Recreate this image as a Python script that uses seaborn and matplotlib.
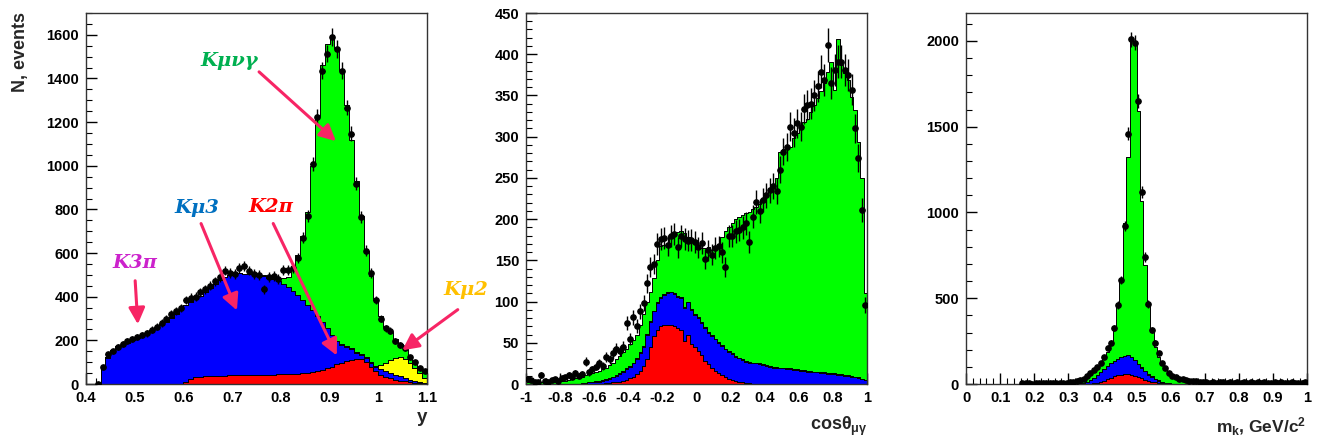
import numpy as np
import pandas as pd
import matplotlib
matplotlib.use("Agg")
import matplotlib.pyplot as plt
import seaborn as sns
from matplotlib.ticker import MultipleLocator, FuncFormatter
from matplotlib.patches import FancyArrowPatch

nan = np.nan

# ---------------- left panel: y (0.40 .. 1.10, 70 bins) ----------------
y_edges = [0.40 + 0.01 * i for i in range(71)]
y_k2pi = [0]*20 + [10, 22, 30, 34, 36, 37, 37, 38, 38, 39, 40, 40, 41, 40, 41, 42, 42, 43, 43, 44,
                   45, 45, 47, 48, 50, 52, 55, 60, 66, 72, 80, 90, 98, 105, 110, 114, 114, 100, 78, 58,
                   42, 33, 26, 20, 16, 12, 9, 6, 4, 3]
y_kmu3 = [0, 0, 0, 72, 118, 148, 163, 172, 188, 200, 210, 220, 230, 243, 257, 270, 285, 303, 322, 342,
          352, 356, 362, 371, 384, 401, 421, 440, 454, 461, 465, 467, 464, 463, 459, 455, 451, 445, 437, 426,
          413, 400, 381, 360, 335, 310, 285, 252, 218, 183, 145, 105, 82, 65, 50, 30, 20, 18, 17, 18,
          25, 27, 24, 22, 19, 16, 11, 9, 6, 3]
y_k3pi = [0, 0, 0, 2, 5, 8, 10, 8, 6, 5, 5, 4, 4, 4, 3, 3, 3, 2, 2, 2, 2, 1, 1] + [0]*47
y_kmu2 = [0]*50 + [1, 2, 2, 3, 3, 3, 4, 5, 5, 8, 20, 38, 60, 76, 90, 87, 76, 58, 40, 22]
y_kmng = [0]*35 + [3, 5, 7, 10, 12, 28, 45, 112, 182, 295, 428, 660, 918, 1176, 1305, 1374, 1343, 1258,
                   1107, 957, 783, 632, 487, 395, 301, 223, 164, 128, 87, 58, 45, 32, 27, 26, 27]
y_data = [nan, nan, 0, 78, 137, 150, 170, 185, 195, 205, 215, 225, 232, 248, 262, 280, 300, 320, 335, 350,
          385, 395, 400, 420, 435, 450, 470, 490, 520, 510, 505, 530, 540, 520, 505, 500, 435, 490, 495, 480,
          523, 523, 532, 577, 670, 770, 1009, 1225, 1436, 1514, 1590, 1535, 1436, 1266, 1147, 917, 766, 610,
          509, 385, 300, 255, 245, 195, 180, 165, 124, 100, 75, 60]

# ---------------- middle panel: cos(theta_mu gamma) (-1 .. 1, 100 bins) ----------------
c_edges = [-1.0 + 0.02 * i for i in range(101)]
c_total = [3, 2, 2, 2, 2, 2, 3, 3, 3, 3, 4, 4, 5, 6, 7, 8, 9, 11, 12, 13,
           14, 16, 18, 20, 23, 26, 30, 34, 39, 43, 48, 53, 60, 72, 85, 100, 112, 128, 150, 167,
           168, 170, 178, 181, 184, 185, 183, 178, 174, 171, 168, 165, 165, 166, 163, 165, 170, 178, 185, 190,
           195, 200, 203, 205, 207, 209, 212, 215, 218, 224, 228, 234, 240, 250, 282, 285, 286, 288, 298, 305,
           312, 318, 322, 330, 338, 347, 355, 365, 379, 391, 357, 419, 387, 377, 369, 348, 332, 294, 250, 110]
c_k2pi = [0]*23 + [1, 1, 2, 2, 3, 4, 5, 7, 9, 12, 16, 22, 30, 45, 58, 66, 70,
                   72, 72, 72, 70, 68, 65, 52, 60, 48, 45, 40, 35, 28, 24, 20, 16, 13, 11, 8, 6,
                   5, 4, 3, 2, 1, 1] + [0]*34
c_blue_top = [0]*16 + [1, 1, 2, 2, 3, 3, 4, 5, 6, 8, 10, 12, 15, 18, 21, 25, 30, 38, 45, 60, 75, 88, 98, 104,
                       108, 110, 111, 109, 106, 104, 92, 99, 90, 84, 80, 74, 68, 62, 58, 54, 50, 46, 42, 39,
                       36, 33, 31, 29, 27, 26, 25, 25, 24, 23, 22, 21, 20, 20, 19, 19, 18, 18, 17, 17,
                       16, 16, 15, 15, 14, 14, 13, 13, 12, 12, 12, 11, 11, 10, 10, 9, 8, 7, 6, 5]
c_kmu2 = [0]*20 + [1]*78 + [0, 0]
c_data = [6, 5, 3, 2, 11, 4, 3, 5, 6, 4, 7, 8, 11, 9, 13, 10, 12, 27, 14, 18,
          21, 25, 22, 33, 30, 37, 43, 40, 45, 74, 55, 81, 70, 88, 98, 122, 142, 146, 170, 176,
          177, 168, 180, 182, 166, 180, 176, 174, 175, 172, 166, 171, 152, 162, 157, 165, 167, 160, 142, 179,
          180, 185, 187, 190, 195, 172, 203, 221, 210, 223, 229, 235, 240, 234, 260, 282, 288, 312, 305, 316,
          312, 334, 338, 340, 350, 361, 379, 369, 411, 365, 381, 391, 391, 381, 375, 357, 310, 274, 211, 96]

# ---------------- right panel: m_k (0 .. 1, 100 bins) ----------------
m_edges = [0.01 * i for i in range(101)]
m_k2pi = [0]*35 + [1, 2, 4, 7, 12, 20, 28, 36, 44, 50, 55, 58, 58, 54, 48, 40, 33, 25, 18, 13,
                   9, 6, 4, 2, 1] + [0]*40
m_kmu3 = [0]*33 + [3, 6, 11, 20, 31, 43, 56, 68, 77, 84, 91, 98, 103, 107, 110, 106, 92, 75, 62, 50,
                   37, 29, 21, 14, 8, 5, 3, 2, 1] + [0]*38
m_kmu2 = [0]*50 + [2, 2, 3, 3, 2, 2, 2, 1] + [0]*42
m_kmng = [0]*30 + [5, 8, 10, 15, 17, 28, 30, 35, 35, 54, 63, 83, 119, 191, 324, 448, 772, 1157, 1846, 1855,
                   1473, 968, 616, 414, 261, 186, 137, 107, 88, 66, 50, 37, 28, 20, 14, 8, 5, 3] + [0]*32
m_data = [nan]*16 + [4, 3, 5, 2, 4, 5, 3, 6, 4, 5, 3, 6, 5, 8, 9, 12, 15, 22, 30, 45, 64, 80, 101, 124,
                     159, 210, 241, 325, 460, 606, 921, 1458, 2010, 1991, 1650, 1119, 740, 466, 315, 241, 180, 122,
                     93, 64, 45, 38, 29, 27, 25, 20, 18, 15, 14, 12, 10, 8, 12, 7, 9, 11, 6, 10, 8, 9,
                     7, 11, 6, 9, 8, 10, 5, 9, 7, 8, 10, 6, 9, 7, 8, 11, 6, 8, 7, 9]

names = ["Kmunugamma", "Kmu2", "K3pi", "Kmu3", "K2pi"]  # top -> bottom
colors = {"Kmunugamma": "#00ff00", "Kmu2": "#ffff00", "K3pi": "#ff00ff",
          "Kmu3": "#0000ff", "K2pi": "#ff0000"}

sns.set_theme(style="white")
plt.rcParams["font.family"] = ["Liberation Sans", "DejaVu Sans"]
plt.rcParams["font.weight"] = "bold"
plt.rcParams["mathtext.fontset"] = "custom"
plt.rcParams["mathtext.rm"] = "Liberation Sans:bold"
plt.rcParams["mathtext.it"] = "Liberation Sans:bold"
plt.rcParams["mathtext.bf"] = "Liberation Sans:bold"

W, H = 1317, 440
fig = plt.figure(figsize=(W / 100, H / 100), dpi=100)


def axes_px(x0, x1, y0, y1):
    return fig.add_axes([x0 / W, 1 - y1 / H, (x1 - x0) / W, (y1 - y0) / H])


def draw_panel(ax, edges, comps, data, xlim, ylim, xmaj, xmin, ymaj, ymin):
    edges_list = [float(e) for e in edges]
    e = np.asarray(edges_list)
    centers = (e[:-1] + e[1:]) / 2
    frames = []
    for name, vals in comps.items():
        frames.append(pd.DataFrame({"x": centers, "w": np.asarray(vals, float), "comp": name}))
    df = pd.concat(frames, ignore_index=True)
    order = [n for n in names if n in comps]
    sns.histplot(data=df, x="x", weights="w", hue="comp", hue_order=order, bins=edges_list,
                 multiple="stack", element="step", fill=True, alpha=1,
                 palette={k: colors[k] for k in order}, edgecolor="black", linewidth=0.7,
                 legend=False, ax=ax)
    d = np.asarray(data, float)
    ok = ~np.isnan(d)
    hw = (e[1] - e[0]) / 2
    ax.errorbar(centers[ok], d[ok], yerr=np.sqrt(d[ok]), xerr=hw, fmt="o", color="black",
                ms=3.8, elinewidth=1.0, capsize=0, zorder=5)
    ax.set_xlim(*xlim)
    ax.set_ylim(*ylim)
    ax.set_xlabel("")
    ax.set_ylabel("")
    ax.set_axisbelow(True)
    ax.xaxis.set_major_locator(MultipleLocator(xmaj))
    ax.xaxis.set_minor_locator(MultipleLocator(xmin))
    ax.yaxis.set_major_locator(MultipleLocator(ymaj))
    ax.yaxis.set_minor_locator(MultipleLocator(ymin))
    ax.xaxis.set_major_formatter(FuncFormatter(lambda v, p: "%g" % round(v, 3)))
    ax.yaxis.set_major_formatter(FuncFormatter(lambda v, p: "%d" % round(v)))
    ax.tick_params(which="both", direction="in", bottom=True, left=True, top=False, right=False,
                   labelsize=10.5, colors="black")
    ax.tick_params(which="major", length=8, width=1.0, pad=5)
    ax.tick_params(which="minor", length=4, width=0.8)
    for lab in ax.get_xticklabels() + ax.get_yticklabels():
        lab.set_fontweight("bold")
    for s in ax.spines.values():
        s.set_color("#333333")
        s.set_linewidth(1.0)
        s.set_visible(True)


ax1 = axes_px(86, 427, 13, 384)
draw_panel(ax1, y_edges,
           {"Kmunugamma": y_kmng, "Kmu2": y_kmu2, "K3pi": y_k3pi, "Kmu3": y_kmu3, "K2pi": y_k2pi},
           y_data, (0.4, 1.1), (0, 1700), 0.1, 0.02, 200, 50)

c_kmu3 = [max(b - r, 0) for b, r in zip(c_blue_top, c_k2pi)]
c_kmng = [max(t - b - y, 0) for t, b, y in zip(c_total, c_blue_top, c_kmu2)]
ax2 = axes_px(526, 867, 13, 384)
draw_panel(ax2, c_edges,
           {"Kmunugamma": c_kmng, "Kmu2": c_kmu2, "Kmu3": c_kmu3, "K2pi": c_k2pi},
           c_data, (-1, 1), (0, 450), 0.2, 0.04, 50, 10)

ax3 = axes_px(966, 1307, 13, 384)
draw_panel(ax3, m_edges,
           {"Kmunugamma": m_kmng, "Kmu2": m_kmu2, "Kmu3": m_kmu3, "K2pi": m_k2pi},
           m_data, (0, 1), (0, 2163), 0.1, 0.02, 500, 100)


def fp(x, y):
    return (x / W, 1 - y / H)


# axis titles
fig.text(*fp(20, 12), "N, events", rotation=90, ha="center", va="top", fontsize=13, fontweight="bold")
fig.text(*fp(427, 417), "y", ha="right", va="center", fontsize=13.5, fontweight="bold")
fig.text(*fp(867, 426), r"$\mathrm{cos}\theta_{\mu\gamma}$", ha="right", va="center", fontsize=13)
fig.text(*fp(1306, 427), r"$\mathrm{m_{k}}$, GeV/c$^{2}$", ha="right", va="center", fontsize=12.5,
         fontweight="bold")

# decay channel labels and arrows
lab_kw = dict(ha="center", va="center", fontsize=14, fontweight="bold", fontstyle="italic",
              family=["DejaVu Serif"])
fig.text(*fp(229, 61), "Kμνγ", color="#00b050", **lab_kw)
fig.text(*fp(197, 208), "Kμ3", color="#0070c0", **lab_kw)
fig.text(*fp(271, 207), "K2π", color="#ff0000", **lab_kw)
fig.text(*fp(135, 263), "K3π", color="#cc22cc", **lab_kw)
fig.text(*fp(466, 290), "Kμ2", color="#ffc000", **lab_kw)

arrow_col = "#f72565"
for (xa, ya), (xb, yb) in [((257, 70), (338, 143)), ((200, 221), (238, 313)),
                           ((272, 221), (338, 358)), ((135, 278), (138, 327)),
                           ((460, 308), (400, 352))]:
    arr = FancyArrowPatch(fp(xa, ya), fp(xb, yb), transform=fig.transFigure,
                          arrowstyle="-|>,head_length=0.7,head_width=0.35", mutation_scale=14,
                          color=arrow_col, lw=2.2, zorder=10)
    fig.add_artist(arr)

fig.savefig("out.png", dpi=100)
